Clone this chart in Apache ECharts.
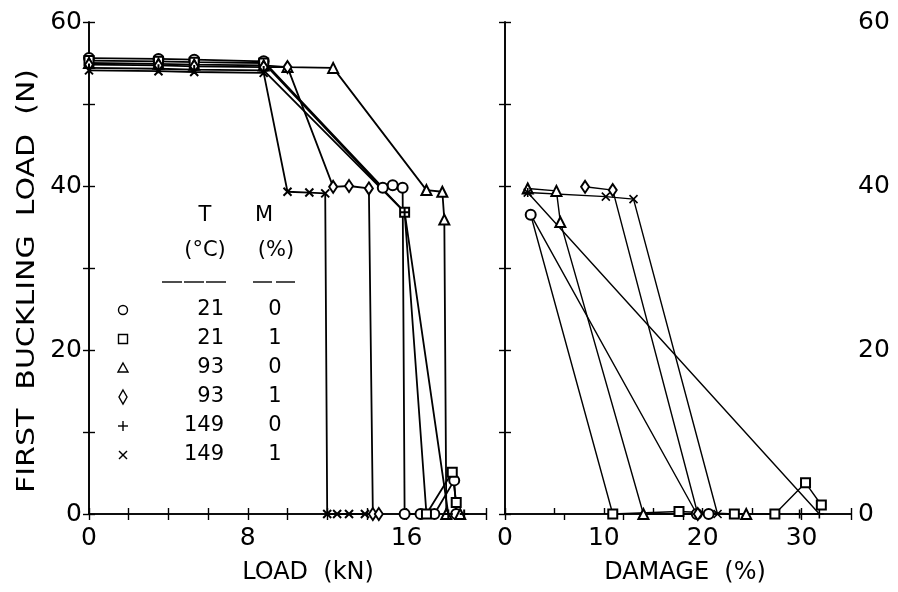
<!DOCTYPE html>
<html>
<head>
<meta charset="utf-8">
<script src="https://cdn.jsdelivr.net/npm/echarts@6/dist/echarts.min.js"></script>
<style>
  html, body { margin: 0; padding: 0; background: #fff; }
  #chart { width: 898px; height: 592px; }
</style>
</head>
<body>
<div id="chart"></div>
<script>
// Legend rows: temperature (°C) and moisture (%)
const legendT = ['21', '21', '93', '93', '149', '149'];
const legendM = ['0', '1', '0', '1', '0', '1'];

// First buckling load (N) against applied load (kN)
const load_21_0  = [[0,55.6],[3.5,55.5],[5.3,55.4],[8.8,55.2],[14.8,39.8],[15.3,40.1],[15.8,39.8],[15.9,0],[16.7,0],[17.4,0],[18.4,4.1],[18.5,0]];
const load_21_1  = [[0,55.3],[3.5,55.2],[5.3,55.1],[8.8,55.0],[15.9,36.8],[17.0,0],[18.3,5.1],[18.5,1.4]];
const load_93_0  = [[0,55.0],[3.5,54.9],[5.3,54.8],[8.8,54.7],[10.0,54.5],[12.3,54.4],[17.0,39.5],[17.8,39.3],[17.9,35.9],[18.0,0],[18.7,0]];
const load_93_1  = [[0,54.8],[3.5,54.7],[5.3,54.6],[8.8,54.5],[10.0,54.5],[12.3,39.9],[13.1,40.0],[14.1,39.7],[14.3,0],[14.6,0]];
const load_149_0 = [[0,54.4],[3.5,54.3],[5.3,54.2],[8.8,54.1],[15.9,36.8],[18.1,0],[18.9,0]];
const load_149_1 = [[0,54.1],[3.5,54.0],[5.3,53.9],[8.8,53.8],[10.0,39.3],[11.1,39.2],[11.9,39.1],[12.0,0],[12.5,0],[13.1,0],[13.9,0]];

// First buckling load (N) against damage (%)
const dmg_21_0  = [[2.6,36.5],[19.4,0],[20.6,0]];
const dmg_21_1  = [[2.6,36.5],[10.9,0],[17.6,0.3],[23.2,0],[27.3,0],[30.4,3.8],[32.0,1.1]];
const dmg_93_0  = [[2.3,39.7],[5.2,39.4],[5.6,35.6],[14.0,0],[24.4,0]];
const dmg_93_1  = [[8.1,39.9],[10.9,39.5],[19.5,0]];
const dmg_149_0 = [[2.3,39.2],[31.8,0],[29.8,0]];
const dmg_149_1 = [[2.3,39.2],[10.2,38.7],[13.0,38.4],[21.5,0]];

// Axis tick labels
const loadTickLabels = [0, 8, 16];
const damageTickLabels = [0, 10, 20, 30];
const bucklingTickLabels = [0, 20, 40, 60];

const FONT = 'DejaVu Sans';
const PLUS = 'path://M5,0L5,10M0,5L10,5';
const CROSS = 'path://M0,0L10,10M10,0L0,10';

const styles = [
  { symbol: 'emptyCircle',   size: 10 },
  { symbol: 'emptyRect',     size: 9 },
  { symbol: 'emptyTriangle', size: 10 },
  { symbol: 'emptyDiamond',  size: [8, 12] },
  { symbol: PLUS,            size: 9 },
  { symbol: CROSS,           size: 8 }
];

function mk(data, idx, xi, yi, width, skipFirst) {
  const st = styles[idx];
  return {
    type: 'line',
    xAxisIndex: xi,
    yAxisIndex: yi,
    data: data,
    symbol: skipFirst ? function (v, p) { return p.dataIndex === 0 ? 'none' : st.symbol; } : st.symbol,
    symbolSize: st.size,
    showAllSymbol: true,
    clip: false,
    animation: false,
    lineStyle: { color: '#000', width: width },
    itemStyle: { color: '#000', borderColor: '#000', borderWidth: width + 0.2 },
    z: 3
  };
}

const axisLineStyle = { show: true, lineStyle: { color: '#000', width: 1.6 } };
const tickStyle = { show: true, inside: true, length: 6, lineStyle: { color: '#000', width: 1.4 } };
const labelStyle = { color: '#000', fontFamily: FONT, fontSize: 25 };

function xAx(grid, pos, max, interval, labels) {
  return {
    type: 'value', gridIndex: grid, position: pos, min: 0, max: max, interval: interval,
    axisLine: axisLineStyle, axisTick: tickStyle, splitLine: { show: false },
    axisLabel: labels ? Object.assign({ margin: 12, formatter: v => labels.indexOf(v) >= 0 ? String(v) : '' }, labelStyle) : { show: false }
  };
}
function yAx(grid, pos, labels) {
  return {
    type: 'value', gridIndex: grid, position: pos, min: 0, max: 60, interval: 10,
    axisLine: axisLineStyle, axisTick: tickStyle, splitLine: { show: false },
    axisLabel: labels ? Object.assign({ margin: 7, formatter: v => labels.indexOf(v) >= 0 ? String(v) : '' }, labelStyle) : { show: false }
  };
}

// Legend table drawn inside the left panel
const legendGraphics = [];
const rowY0 = 310, rowStep = 29;
const textStyle = (t, x, y, align, size) => ({
  type: 'text', x: x, y: y,
  style: { text: t, fill: '#000', font: (size || 21) + 'px "' + FONT + '"', textAlign: align || 'center', textVerticalAlign: 'middle' }
});
legendGraphics.push(textStyle('T', 205, 216));
legendGraphics.push(textStyle('M', 264, 216));
legendGraphics.push(textStyle('(°C)', 205, 251));
legendGraphics.push(textStyle('(%)', 276, 251));
[[162, 182], [184, 204], [206, 226], [253, 272], [276, 295]].forEach(d => {
  legendGraphics.push({ type: 'line', shape: { x1: d[0], y1: 282, x2: d[1], y2: 282 }, style: { stroke: '#000', lineWidth: 1.4 } });
});
const symX = 123;
legendT.forEach((t, i) => {
  const y = rowY0 + i * rowStep;
  legendGraphics.push(textStyle(t, 224, y, 'right'));
  legendGraphics.push(textStyle(legendM[i], 275, y));
});
const ls = { stroke: '#000', fill: 'none', lineWidth: 1.4 };
legendGraphics.push({ type: 'circle', shape: { cx: symX, cy: rowY0, r: 4.5 }, style: ls });
legendGraphics.push({ type: 'rect', shape: { x: symX - 4.5, y: rowY0 + rowStep - 4.5, width: 9, height: 9 }, style: ls });
legendGraphics.push({ type: 'polygon', shape: { points: [[symX, rowY0 + 2 * rowStep - 5], [symX + 5, rowY0 + 2 * rowStep + 4], [symX - 5, rowY0 + 2 * rowStep + 4]] }, style: ls });
legendGraphics.push({ type: 'polygon', shape: { points: [[symX, rowY0 + 3 * rowStep - 7], [symX + 4, rowY0 + 3 * rowStep], [symX, rowY0 + 3 * rowStep + 7], [symX - 4, rowY0 + 3 * rowStep]] }, style: ls });
legendGraphics.push({ type: 'polyline', shape: { points: [[symX - 5, rowY0 + 4 * rowStep], [symX + 5, rowY0 + 4 * rowStep]] }, style: ls });
legendGraphics.push({ type: 'polyline', shape: { points: [[symX, rowY0 + 4 * rowStep - 5], [symX, rowY0 + 4 * rowStep + 5]] }, style: ls });
legendGraphics.push({ type: 'polyline', shape: { points: [[symX - 4, rowY0 + 5 * rowStep - 4], [symX + 4, rowY0 + 5 * rowStep + 4]] }, style: ls });
legendGraphics.push({ type: 'polyline', shape: { points: [[symX + 4, rowY0 + 5 * rowStep - 4], [symX - 4, rowY0 + 5 * rowStep + 4]] }, style: ls });

// Axis titles
legendGraphics.push({
  type: 'text', x: 28, y: 281, rotation: Math.PI / 2, scaleX: 1.25,
  style: { text: 'FIRST  BUCKLING  LOAD  (N)', fill: '#000', font: '24px "' + FONT + '"', textAlign: 'center', textVerticalAlign: 'middle' }
});
legendGraphics.push(textStyle('LOAD  (kN)', 308, 573, 'center', 24));
legendGraphics.push(textStyle('DAMAGE  (%)', 685, 573, 'center', 24));

const chart = echarts.init(document.getElementById('chart'), null, { renderer: 'canvas' });
chart.setOption({
  backgroundColor: '#fff',
  animation: false,
  grid: [
    { left: 89, top: 22, width: 397, height: 492 },
    { left: 505, top: 22, width: 346, height: 492 }
  ],
  xAxis: [
    xAx(0, 'bottom', 20, 2, loadTickLabels),
    xAx(0, 'top', 20, 2, null),
    xAx(1, 'bottom', 35, 5, damageTickLabels),
    xAx(1, 'top', 35, 6, null)
  ],
  yAxis: [
    yAx(0, 'left', bucklingTickLabels),
    yAx(0, 'right', null),
    yAx(1, 'left', null),
    yAx(1, 'right', bucklingTickLabels)
  ],
  series: [
    mk(load_21_0, 0, 0, 0, 1.8), mk(load_21_1, 1, 0, 0, 1.8), mk(load_93_0, 2, 0, 0, 1.8),
    mk(load_93_1, 3, 0, 0, 1.8), mk(load_149_0, 4, 0, 0, 1.8), mk(load_149_1, 5, 0, 0, 1.8),
    mk(dmg_21_0, 0, 2, 3, 1.4), mk(dmg_21_1, 1, 2, 3, 1.4, true), mk(dmg_93_0, 2, 2, 3, 1.4),
    mk(dmg_93_1, 3, 2, 3, 1.4), mk(dmg_149_0, 4, 2, 3, 1.4), mk(dmg_149_1, 5, 2, 3, 1.4)
  ],
  graphic: legendGraphics
});
</script>
</body>
</html>
